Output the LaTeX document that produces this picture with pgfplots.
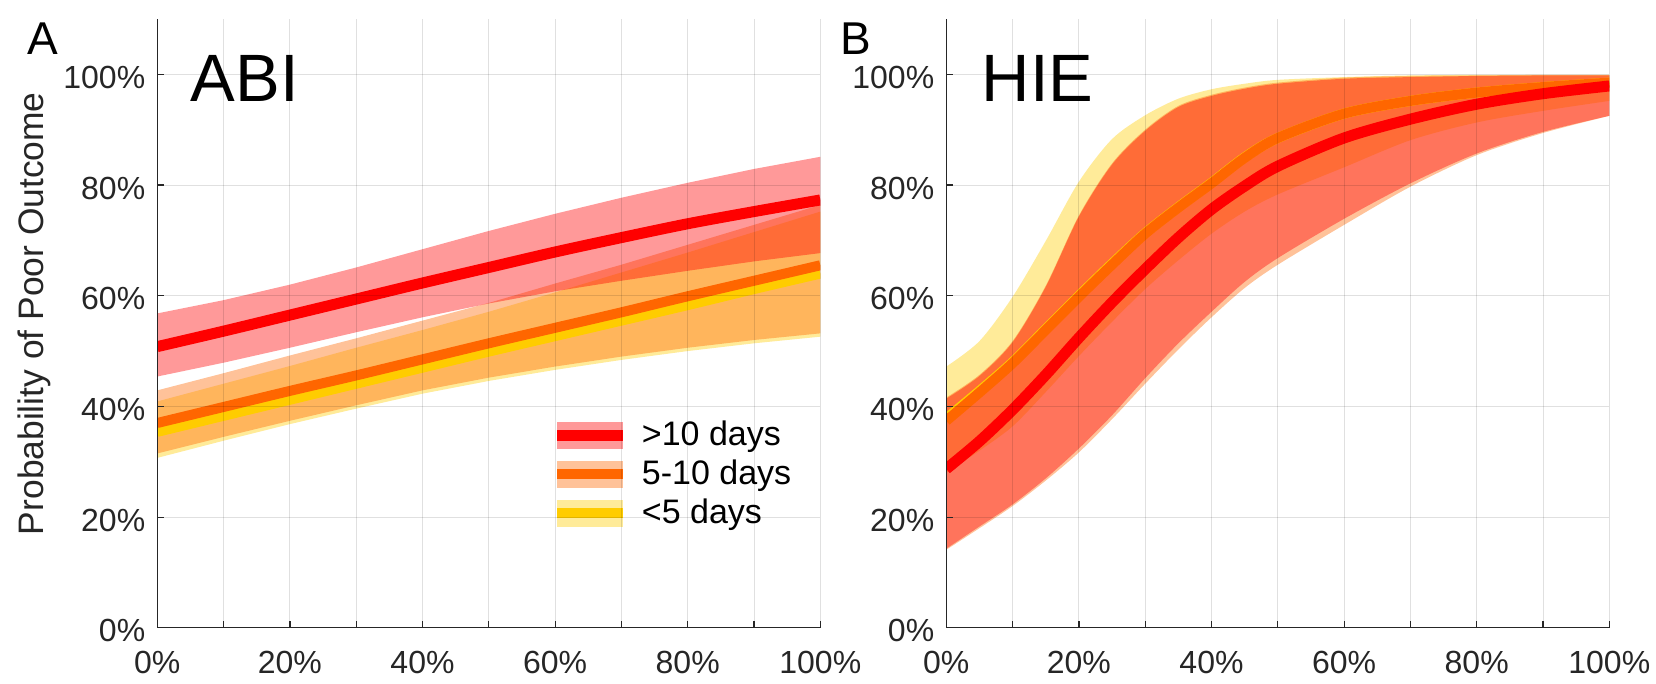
\documentclass[border=0pt]{standalone}
\usepackage{pgfplots}
\pgfplotsset{compat=1.18}
\usepackage{pgfplotstable}
\usepgfplotslibrary{fillbetween}
\usepackage{fontspec}
\setmainfont{Liberation Sans}
\definecolor{cRed}{RGB}{255,0,0}
\definecolor{cOrange}{RGB}{255,102,0}
\definecolor{cYellow}{RGB}{255,204,0}
\definecolor{axgray}{RGB}{38,38,38}

\pgfplotstableread{
x   rc   rl   ru   oc   ol   ou   yc   yl   yu
0   50.8 45.4 56.8 37.0 31.5 42.9 35.4 30.7 40.9
10  53.6 47.9 59.2 39.9 34.5 46.0 38.3 33.8 44.1
20  56.5 50.6 62.0 42.8 37.4 49.2 41.2 36.8 47.3
30  59.4 53.4 65.1 45.6 40.2 52.3 44.1 39.6 50.6
40  62.3 56.1 68.4 48.5 42.9 55.5 47.0 42.3 53.8
50  65.1 58.6 71.7 51.4 45.2 58.7 49.9 44.6 57.1
60  67.9 60.8 74.8 54.2 47.2 62.2 52.7 46.6 60.6
70  70.5 62.7 77.7 57.0 49.0 65.6 55.5 48.4 64.2
80  73.0 64.5 80.4 59.9 50.6 69.2 58.3 50.0 67.8
90  75.2 66.2 82.9 62.7 52.0 72.8 61.2 51.4 71.5
100 77.3 67.7 85.1 65.5 53.2 76.4 64.0 52.6 75.2
}\abi

\pgfplotstableread{
x   rc   rl   ru   oc   ol   ou   yc   yl   yu
0   28.7 14.3 41.4 37.4 14.1 41.6 37.8 28.0 47.2
5   33.7 18.3 45.5 42.5 18.0 45.7 42.8 32.0 51.8
10  39.4 22.3 51.6 47.8 22.0 51.8 48.0 36.4 59.8
15  45.7 27.0 61.6 53.8 26.6 61.8 54.0 42.6 69.9
20  52.4 32.4 74.3 59.8 31.7 74.5 60.0 49.1 80.6
25  58.8 38.4 83.7 65.6 37.7 83.9 65.8 55.3 88.3
30  64.8 45.1 89.8 71.2 44.1 90.0 71.3 61.2 92.6
35  70.5 51.4 94.1 75.9 50.3 94.3 76.0 66.4 95.6
40  75.6 57.1 96.1 80.3 56.1 96.3 80.4 71.2 97.3
45  79.8 62.5 97.4 84.9 61.4 97.6 85.0 75.2 98.3
50  83.4 66.8 98.3 88.5 65.6 98.5 88.5 78.3 99.0
60  88.5 73.9 99.2 92.9 72.8 99.4 92.9 83.2 99.5
70  91.9 80.3 99.5 95.2 79.7 99.7 95.2 88.1 99.8
80  94.6 85.7 99.7 96.7 85.4 99.8 96.7 91.3 99.9
90  96.5 89.6 99.8 97.7 89.4 99.9 97.7 93.4 99.9
100 97.9 92.5 99.8 98.5 92.5 99.9 98.5 95.2 99.9
}\hie

\pgfplotsset{
  myaxis/.style={
    scale only axis, width=331.5pt, height=304.4pt,
    xmin=0, xmax=100, ymin=0, ymax=110,
    axis lines*=left,
    axis line style={color=axgray, line width=0.6pt},
    xtick={0,20,...,100}, minor xtick={10,30,...,90},
    ytick={0,20,...,100},
    xticklabel={\pgfmathprintnumber{\tick}\%},
    yticklabel={\pgfmathprintnumber{\tick}\%},
    grid=both,
    major grid style={black, opacity=0.12, line width=0.5pt},
    minor grid style={black, opacity=0.12, line width=0.5pt},
    tick align=inside, major tick length=3.5pt, minor tick length=3.5pt,
    tick style={axgray, line width=0.6pt},
    ticklabel style={font=\fontsize{16}{18}\selectfont, text=axgray},
    xticklabel style={yshift=-8pt},
    yticklabel style={xshift=-2.5pt, yshift=-1.5pt},
    /pgf/number format/assume math mode=true,
    axis on top,
  },
  band/.style={draw=none, fill=#1, fill opacity=0.4, forget plot},
  edge/.style={draw=none, forget plot},
}

\begin{document}
\begin{tikzpicture}
%================ Panel A =================
\begin{axis}[myaxis, at={(78.65pt,28.1pt)}, anchor=south west,
  ylabel={Probability of Poor Outcome},
  ylabel style={font=\fontsize{17.7}{20}\selectfont, text=axgray, at={(ticklabel cs:0.516)}},
  ylabel shift=-0.5pt,
  reverse legend,
  legend style={draw=none, fill=none, at={(0.585,0.352)}, anchor=north west,
    font=\fontsize{17}{19}\selectfont, row sep=2.3pt,
    nodes={inner sep=1.7pt},
    /tikz/every odd column/.append style={column sep=5pt}},
  legend cell align=left]
  \addplot[edge, name path=Yu] table[x=x,y=yu]{\abi};
  \addplot[edge, name path=Yl] table[x=x,y=yl]{\abi};
  \addplot[band=cYellow] fill between[of=Yu and Yl];
  \addplot[edge, name path=Ou] table[x=x,y=ou]{\abi};
  \addplot[edge, name path=Ol] table[x=x,y=ol]{\abi};
  \addplot[band=cOrange] fill between[of=Ou and Ol];
  \addplot[edge, name path=Ru] table[x=x,y=ru]{\abi};
  \addplot[edge, name path=Rl] table[x=x,y=rl]{\abi};
  \addplot[band=cRed] fill between[of=Ru and Rl];
  \addplot[cYellow, line width=5pt, smooth,
    legend image code/.code={
      \path[fill=cYellow!40, draw=none] (0pt,-6.75pt) rectangle (33pt,6.75pt);
      \path[draw=cYellow, line width=5pt] (0pt,0pt) -- (33pt,0pt);}]
    table[x=x,y=yc]{\abi};
  \addlegendentry{<5 days}
  \addplot[cOrange, line width=5pt, smooth,
    legend image code/.code={
      \path[fill=cOrange!40, draw=none] (0pt,-6.75pt) rectangle (33pt,6.75pt);
      \path[draw=cOrange, line width=5pt] (0pt,0pt) -- (33pt,0pt);}]
    table[x=x,y=oc]{\abi};
  \addlegendentry{5-10 days}
  \addplot[cRed, line width=5.5pt, smooth,
    legend image code/.code={
      \path[fill=cRed!40, draw=none] (0pt,-6.75pt) rectangle (33pt,6.75pt);
      \path[draw=cRed, line width=5.5pt] (0pt,0pt) -- (33pt,0pt);}]
    table[x=x,y=rc]{\abi};
  \addlegendentry{>10 days}
  \node[anchor=base west, inner sep=0pt, font=\fontsize{33.5}{40}\selectfont]
    at (rel axis cs:0.05,0.864) {ABI};
\end{axis}
%================ Panel B =================
\begin{axis}[myaxis, at={(473.15pt,28.1pt)}, anchor=south west]
  \addplot[edge, smooth, name path=Yu] table[x=x,y=yu]{\hie};
  \addplot[edge, smooth, name path=Yl] table[x=x,y=yl]{\hie};
  \addplot[band=cYellow] fill between[of=Yu and Yl];
  \addplot[edge, smooth, name path=Ou] table[x=x,y=ou]{\hie};
  \addplot[edge, smooth, name path=Ol] table[x=x,y=ol]{\hie};
  \addplot[band=cOrange] fill between[of=Ou and Ol];
  \addplot[edge, smooth, name path=Ru] table[x=x,y=ru]{\hie};
  \addplot[edge, smooth, name path=Rl] table[x=x,y=rl]{\hie};
  \addplot[band=cRed] fill between[of=Ru and Rl];
  \addplot[cYellow, line width=5pt, smooth] table[x=x,y=yc]{\hie};
  \addplot[cOrange, line width=5pt, smooth] table[x=x,y=oc]{\hie};
  \addplot[cRed, line width=5.5pt, smooth] table[x=x,y=rc]{\hie};
  \node[anchor=base west, inner sep=0pt, font=\fontsize{33.5}{40}\selectfont]
    at (rel axis cs:0.053,0.864) {HIE};
\end{axis}
\node[anchor=base west, inner sep=0pt, font=\fontsize{23}{26}\selectfont] at (13.5pt,314.5pt) {A};
\node[anchor=base west, inner sep=0pt, font=\fontsize{23}{26}\selectfont] at (420pt,314.5pt) {B};
\pgfresetboundingbox
\path[use as bounding box] (0pt,0pt) rectangle (828pt,342pt);
\end{tikzpicture}
\end{document}
